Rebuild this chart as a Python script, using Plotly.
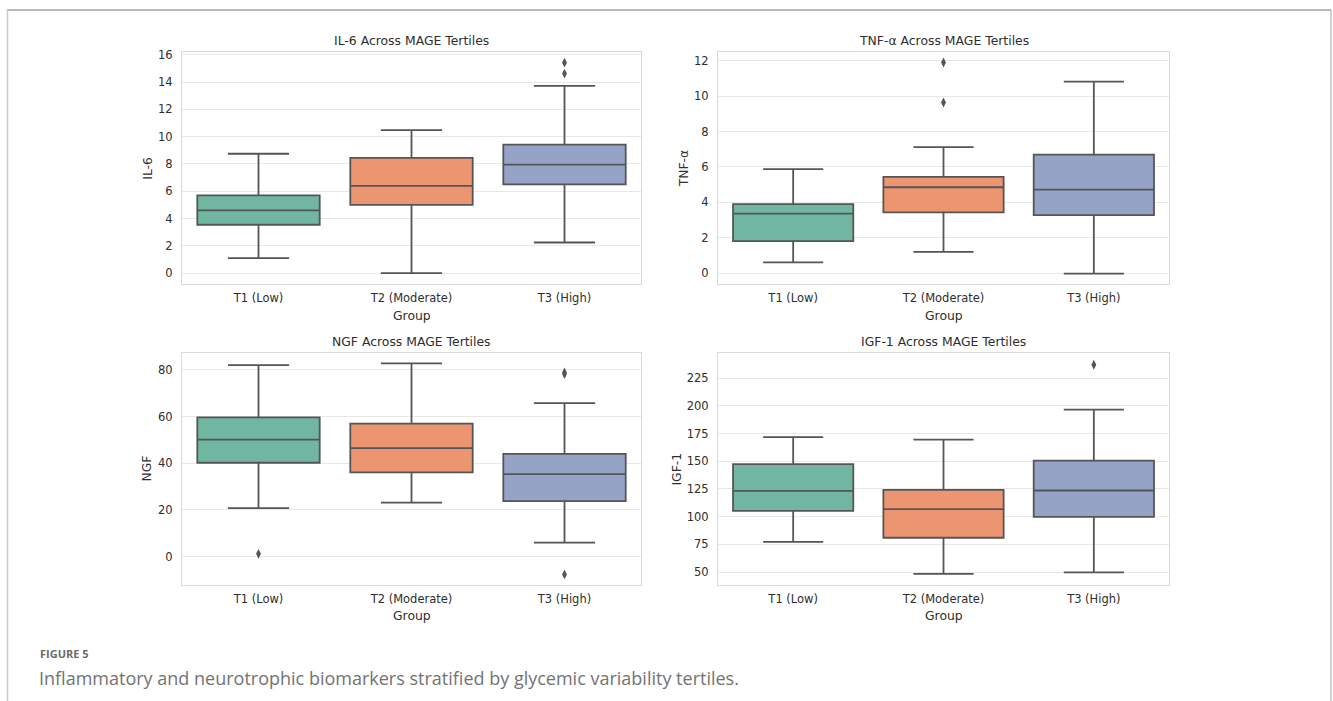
import plotly.graph_objects as go

W, H = 1333, 701

groups = ["T1 (Low)", "T2 (Moderate)", "T3 (High)"]
colors = ["#71b6a1", "#ec9671", "#94a3c6"]

# IL-6
il6_low = [1.1, 0.0, 2.25]
il6_q1 = [3.55, 5.0, 6.5]
il6_med = [4.6, 6.4, 7.95]
il6_q3 = [5.7, 8.45, 9.42]
il6_high = [8.75, 10.48, 13.72]
il6_out = [[], [], [14.62, 15.42]]

# TNF-alpha
tnf_low = [0.6, 1.2, -0.03]
tnf_q1 = [1.8, 3.43, 3.28]
tnf_med = [3.36, 4.85, 4.72]
tnf_q3 = [3.9, 5.44, 6.7]
tnf_high = [5.87, 7.12, 10.82]
tnf_out = [[], [9.64, 11.9], []]

# NGF
ngf_low = [20.8, 23.1, 6.0]
ngf_q1 = [40.2, 36.1, 23.8]
ngf_med = [50.1, 46.5, 35.3]
ngf_q3 = [59.6, 57.0, 44.0]
ngf_high = [82.0, 82.8, 65.7]
ngf_out = [[1.2], [], [78.2, 78.9, -7.6]]

# IGF-1
igf_low = [77.2, 48.5, 49.7]
igf_q1 = [105.3, 81.0, 99.8]
igf_med = [123.3, 106.9, 123.6]
igf_q3 = [147.4, 124.2, 150.5]
igf_high = [171.8, 169.4, 196.6]
igf_out = [[], [], [237.0]]

panels = [
    dict(name="IL-6", title="IL-6 Across MAGE Tertiles", low=il6_low, q1=il6_q1, med=il6_med, q3=il6_q3,
         high=il6_high, out=il6_out, yr=[-0.82, 16.22], dt=2, t0=0),
    dict(name="TNF-α", title="TNF-α Across MAGE Tertiles", low=tnf_low, q1=tnf_q1, med=tnf_med, q3=tnf_q3,
         high=tnf_high, out=tnf_out, yr=[-0.64, 12.51], dt=2, t0=0),
    dict(name="NGF", title="NGF Across MAGE Tertiles", low=ngf_low, q1=ngf_q1, med=ngf_med, q3=ngf_q3,
         high=ngf_high, out=ngf_out, yr=[-12.0, 87.2], dt=20, t0=0),
    dict(name="IGF-1", title="IGF-1 Across MAGE Tertiles", low=igf_low, q1=igf_q1, med=igf_med, q3=igf_q3,
         high=igf_high, out=igf_out, yr=[38.7, 247.6], dt=25, t0=50),
]

# pixel layout of the four plot areas: (x0, x1, y0_top, y1_bottom)
areas = [(182, 641, 48, 282), (718, 1169, 48, 282), (182, 641, 351, 584), (718, 1169, 351, 584)]
ytitle_x = [146.7, 683.3, 146.7, 676.7]

LINE = "#555555"
TXT = "#2e2e2e"
FONT = "DejaVu Sans"

def fx(p):
    return p / W

def fy(p):
    return 1 - p / H

fig = go.Figure()
layout = {}
annotations = []

for i, p in enumerate(panels):
    k = "" if i == 0 else str(i + 1)
    xa, ya = "x" + k, "y" + k
    for g in range(3):
        fig.add_trace(go.Box(
            x=[groups[g]], q1=[p["q1"][g]], median=[p["med"][g]], q3=[p["q3"][g]],
            lowerfence=[p["low"][g]], upperfence=[p["high"][g]],
            fillcolor=colors[g], line=dict(color=LINE, width=1.8), width=0.8,
            whiskerwidth=0.5, boxpoints=False, showlegend=False, xaxis=xa, yaxis=ya,
            hoverinfo="skip"))
        if p["out"][g]:
            fig.add_trace(go.Scatter(
                x=[groups[g]] * len(p["out"][g]), y=p["out"][g], mode="markers",
                marker=dict(symbol="diamond-tall", size=7, color=LINE, line=dict(width=0)),
                showlegend=False, xaxis=xa, yaxis=ya, hoverinfo="skip"))
    x0, x1, yt, yb = areas[i]
    nt = int((p["yr"][1] - p["t0"]) // p["dt"]) + 1
    tv = [p["t0"] + j * p["dt"] for j in range(nt)]
    layout["xaxis" + k] = dict(
        domain=[fx(x0), fx(x1)], anchor=ya, type="category", categoryorder="array",
        categoryarray=groups, range=[-0.5, 2.5], showgrid=False, zeroline=False,
        showline=True, mirror=True, linecolor="#d9d9d9", linewidth=1.2,
        ticks="outside", ticklen=3, tickcolor="rgba(0,0,0,0)",
        tickfont=dict(family=FONT, size=11.5, color=TXT))
    layout["yaxis" + k] = dict(
        domain=[fy(yb), fy(yt)], anchor=xa, range=p["yr"], tickvals=tv,
        showgrid=True, gridcolor="#e8e8e8", gridwidth=1, zeroline=False,
        showline=True, mirror=True, linecolor="#d9d9d9", linewidth=1.2,
        ticks="outside", ticklen=6, tickcolor="rgba(0,0,0,0)",
        tickfont=dict(family=FONT, size=11.5, color=TXT))
    cx = (x0 + x1) / 2
    annotations.append(dict(text=p["title"], x=fx(cx), y=fy(yt - 11.5), xref="paper", yref="paper",
                            showarrow=False, xanchor="center", yanchor="middle",
                            font=dict(family=FONT, size=12.4, color=TXT)))
    annotations.append(dict(text="Group", x=fx(cx), y=fy(yb + 31), xref="paper", yref="paper",
                            showarrow=False, xanchor="center", yanchor="middle",
                            font=dict(family=FONT, size=12.4, color=TXT)))
    annotations.append(dict(text=p["name"], x=fx(ytitle_x[i]), y=fy((yt + yb) / 2), xref="paper",
                            yref="paper", showarrow=False, xanchor="center", yanchor="middle",
                            textangle=-90, font=dict(family=FONT, size=12.4, color=TXT)))

annotations.append(dict(text="<b>FIGURE 5</b>", x=fx(38), y=fy(653), xref="paper", yref="paper",
                        showarrow=False, xanchor="left", yanchor="middle",
                        font=dict(family="Open Sans", size=11, color="#6a6a6a")))
annotations.append(dict(text="Inflammatory and neurotrophic biomarkers stratified by glycemic variability tertiles.",
                        x=fx(37), y=fy(678), xref="paper", yref="paper",
                        showarrow=False, xanchor="left", yanchor="middle",
                        font=dict(family="Open Sans", size=18, color="#737373")))

shapes = [
    dict(type="line", xref="paper", yref="paper", x0=fx(7), x1=fx(1331), y0=fy(6), y1=fy(6),
         line=dict(color="#a0a0aa", width=1.5)),
    dict(type="line", xref="paper", yref="paper", x0=fx(7.5), x1=fx(7.5), y0=fy(6), y1=-0.01,
         line=dict(color="#c8c8ce", width=1.5)),
    dict(type="line", xref="paper", yref="paper", x0=fx(1331), x1=fx(1331), y0=fy(6), y1=-0.01,
         line=dict(color="#b0b0b8", width=1.2)),
]

fig.update_layout(width=W, height=H, margin=dict(l=0, r=0, t=0, b=0),
                  paper_bgcolor="white", plot_bgcolor="white", boxmode="overlay",
                  annotations=annotations, shapes=shapes, **layout)

fig.write_html("out.html", config={"displayModeBar": False},
               post_script="document.body.style.margin='0px';document.body.style.overflow='hidden';")
